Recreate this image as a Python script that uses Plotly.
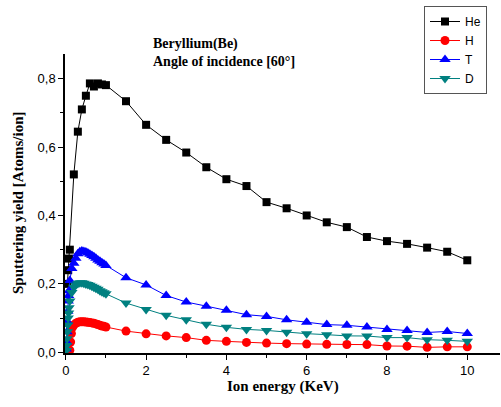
import plotly.graph_objects as go

# ---- data ----
he_x = [0.04, 0.06, 0.08, 0.1, 0.2, 0.3, 0.4, 0.5, 0.6, 0.7, 0.8, 0.9, 1.0,
        1.5, 2.0, 2.5, 3.0, 3.5, 4.0, 4.5, 5.0, 5.5, 6.0, 6.5, 7.0, 7.5, 8.0,
        8.5, 9.0, 9.5, 10.0]
he_y = [0.20, 0.24, 0.274, 0.30, 0.52, 0.645, 0.71, 0.75, 0.786, 0.777, 0.786,
        0.783, 0.781, 0.734, 0.665, 0.621, 0.584, 0.541, 0.506, 0.486, 0.439,
        0.421, 0.400, 0.380, 0.366, 0.337, 0.325, 0.317, 0.306, 0.294, 0.269]

h_x = [0.1, 0.12, 0.14, 0.16, 0.2, 0.25, 0.3, 0.35, 0.4, 0.45, 0.5, 0.55, 0.6,
       0.65, 0.7, 0.75, 0.8, 0.85, 0.9, 0.95, 1.0, 1.5, 2.0, 2.5, 3.0, 3.5,
       4.0, 4.5, 5.0, 5.5, 6.0, 6.5, 7.0, 7.5, 8.0, 8.5, 9.0, 9.5, 10.0]
h_y = [0.006, 0.03, 0.055, 0.072, 0.080, 0.085, 0.088, 0.089, 0.089, 0.089,
       0.0885, 0.088, 0.087, 0.086, 0.085, 0.083, 0.081, 0.079, 0.077, 0.076,
       0.074, 0.062, 0.054, 0.048, 0.043, 0.035, 0.032, 0.029, 0.027, 0.0254,
       0.024, 0.0234, 0.023, 0.0225, 0.0185, 0.018, 0.0145, 0.016, 0.016]

t_x = [0.01, 0.02, 0.03, 0.04, 0.05, 0.06, 0.07, 0.08, 0.1, 0.15, 0.2, 0.25,
       0.3, 0.35, 0.4, 0.45, 0.5, 0.55, 0.6, 0.65, 0.7, 0.75, 0.8, 0.85, 0.9,
       0.95, 1.0, 1.5, 2.0, 2.5, 3.0, 3.5, 4.0, 4.5, 5.0, 5.5, 6.0, 6.5, 7.0,
       7.5, 8.0, 8.5, 9.0, 9.5, 10.0]
t_y = [0.01, 0.03, 0.06, 0.09, 0.12, 0.15, 0.166, 0.18, 0.21, 0.245, 0.26,
       0.275, 0.288, 0.294, 0.296, 0.295, 0.293, 0.29, 0.287, 0.283, 0.279,
       0.275, 0.27, 0.266, 0.262, 0.258, 0.254, 0.218, 0.197, 0.166, 0.147,
       0.135, 0.123, 0.110, 0.105, 0.095, 0.088, 0.081, 0.079, 0.074, 0.067,
       0.064, 0.058, 0.061, 0.055]

d_x = [0.01, 0.02, 0.03, 0.04, 0.05, 0.06, 0.07, 0.08, 0.1, 0.15, 0.2, 0.25,
       0.3, 0.35, 0.4, 0.45, 0.5, 0.55, 0.6, 0.65, 0.7, 0.75, 0.8, 0.85, 0.9,
       0.95, 1.0, 1.5, 2.0, 2.5, 3.0, 3.5, 4.0, 4.5, 5.0, 5.5, 6.0, 6.5, 7.0,
       7.5, 8.0, 8.5, 9.0, 9.5, 10.0]
d_y = [0.005, 0.02, 0.04, 0.06, 0.08, 0.10, 0.115, 0.13, 0.15, 0.175, 0.19,
       0.197, 0.201, 0.203, 0.203, 0.202, 0.200, 0.198, 0.196, 0.193, 0.190,
       0.187, 0.184, 0.180, 0.177, 0.174, 0.171, 0.144, 0.125, 0.108, 0.095,
       0.082, 0.073, 0.067, 0.064, 0.059, 0.0545, 0.0516, 0.048, 0.0477,
       0.043, 0.043, 0.037, 0.035, 0.032]

series = [
    ("He", he_x, he_y, "#000000", "square", 8),
    ("H", h_x, h_y, "#FF0000", "circle", 9),
    ("T", t_x, t_y, "#0000FF", "triangle-up", 10),
    ("D", d_x, d_y, "#008080", "triangle-down", 10),
]

fig = go.Figure()
for name, xs, ys, col, sym, sz in series:
    fig.add_trace(go.Scatter(
        x=xs, y=ys, name=name, mode="lines+markers",
        line=dict(color=col, width=1),
        marker=dict(symbol=sym, size=sz, color=col),
    ))

serif = "Liberation Serif, Times New Roman, serif"
sans = "Liberation Sans, Arial, sans-serif"

W, H = 501, 407
ML, MR, MT, MB = 65, 1, 54, 54
pw, ph = W - ML - MR, H - MT - MB


def px2paper(px, py):
    return (px - ML) / pw, (H - MB - py) / ph


fig.update_layout(
    width=W, height=H,
    margin=dict(l=ML, r=MR, t=MT, b=MB, autoexpand=False),
    paper_bgcolor="white", plot_bgcolor="white",
    separators=", ",
    showlegend=True,
    legend=dict(
        x=424 / W, y=1 - 6 / H, xref="container", yref="container",
        xanchor="left", yanchor="top",
        bordercolor="#555555", borderwidth=1, bgcolor="white",
        font=dict(family=sans, size=12, color="black"),
        itemwidth=30, tracegroupgap=0,
    ),
    font=dict(family=sans, size=12, color="black"),
    xaxis=dict(
        range=[-0.02, 10.815], showgrid=False, zeroline=False, automargin=False,
        showline=True, linecolor="black", linewidth=1.5,
        ticks="outside", ticklen=5, tickwidth=1, tickcolor="black",
        tickmode="array", tickvals=[0, 2, 4, 6, 8, 10],
        tickfont=dict(family=sans, size=13),
        minor=dict(ticks="outside", ticklen=3, dtick=1, tick0=0, tickcolor="black"),
    ),
    yaxis=dict(
        range=[-0.002, 0.872], showgrid=False, zeroline=False, automargin=False,
        showline=True, linecolor="black", linewidth=1.5,
        ticks="outside", ticklen=5, tickwidth=1, tickcolor="black",
        tickmode="array", tickvals=[0, 0.2, 0.4, 0.6, 0.8],
        tickformat=".1f",
        tickfont=dict(family=sans, size=13),
        minor=dict(ticks="outside", ticklen=3, dtick=0.1, tick0=0, tickcolor="black"),
    ),
)

texts = [
    ("<b>Beryllium(Be)</b>", 151, 44, "left", 0, 14),
    ("<b>Angle of incidence [60°]</b>", 151, 62, "left", 0, 14),
    ("<b>Ion energy (KeV)</b>", 283, 386, "center", 0, 15),
    ("<b>Sputtering yield [Atoms/ion]</b>", 18, 203, "center", -90, 15),
]
for txt, px, py, xa, ang, fs in texts:
    ax, ay = px2paper(px, py)
    fig.add_annotation(text=txt, x=ax, y=ay, xref="paper", yref="paper",
                       xanchor=xa, yanchor="middle", textangle=ang,
                       showarrow=False, font=dict(family=serif, size=fs))

fig.write_html(
    "out.html",
    config={"displayModeBar": False},
    post_script="document.body.style.margin='0';document.body.style.padding='0';"
                "document.documentElement.style.overflow='hidden';",
)
